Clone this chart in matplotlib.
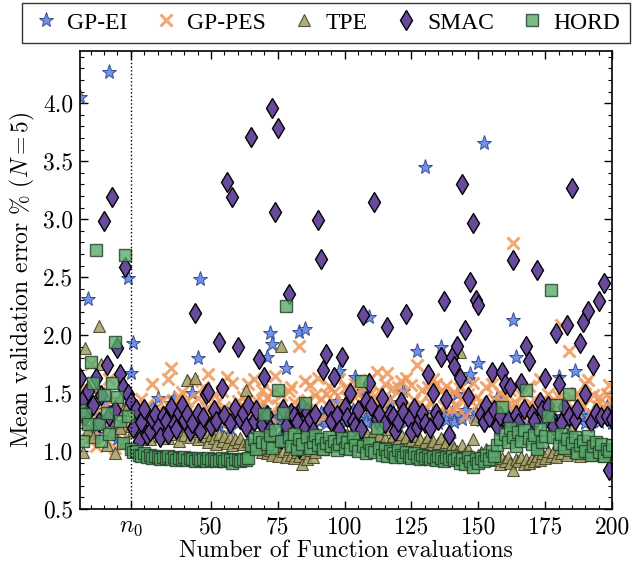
import numpy as np
import matplotlib
matplotlib.use("Agg")
import matplotlib.pyplot as plt
from matplotlib.ticker import MultipleLocator, FormatStrFormatter
from matplotlib.font_manager import FontProperties, findfont

plt.rcParams['font.family'] = 'serif'
plt.rcParams['font.serif'] = ['cmr10']
plt.rcParams['mathtext.fontset'] = 'cm'
plt.rcParams['axes.unicode_minus'] = False
plt.rcParams['axes.formatter.use_mathtext'] = True

n_evals = np.arange(1, 201)
n0 = 20

gp_ei = [4.05, 1.30, 1.45, 2.31, 1.20, 1.35, 1.15, 1.50, 1.25, 1.41,
         1.30, 4.27, 1.20, 1.38, 1.10, 1.45, 1.25, 1.35, 2.49, 1.67,
         1.93, 1.28, 1.22, 1.35, 1.18, 1.31, 1.25, 1.38, 1.20, 1.46,
         1.27, 1.33, 1.22, 1.36, 1.41, 1.46, 1.24, 1.30, 1.19, 1.35,
         1.28, 1.32, 1.50, 1.21, 1.80, 2.48, 1.26, 1.34, 1.23, 1.31,
         1.27, 1.36, 1.22, 1.30, 1.25, 1.33, 1.20, 1.28, 1.35, 1.24,
         1.31, 1.26, 1.34, 1.21, 1.29, 1.37, 1.23, 1.32, 1.27, 1.35,
         1.81, 2.02, 1.92, 1.28, 1.33, 1.25, 1.30, 1.72, 1.26, 1.34,
         1.29, 1.24, 2.03, 1.31, 2.05, 1.27, 1.35, 1.22, 1.30, 1.26,
         1.33, 1.28, 1.24, 1.36, 1.29, 1.25, 1.43, 1.69, 1.27, 1.32,
         1.26, 1.30, 1.35, 1.64, 1.28, 1.33, 1.52, 1.25, 2.16, 1.31,
         1.27, 1.34, 1.23, 1.29, 1.36, 1.26, 1.42, 1.30, 1.24, 1.33,
         1.28, 1.52, 1.25, 1.31, 1.27, 1.35, 1.86, 1.29, 1.23, 3.45,
         1.30, 1.26, 1.34, 1.28, 1.24, 1.90, 1.31, 1.27, 1.10, 1.33,
         1.25, 1.49, 1.30, 1.28, 1.35, 1.62, 1.66, 1.29, 1.33, 1.76,
         1.27, 3.66, 1.31, 1.25, 1.34, 1.29, 1.46, 1.26, 1.32, 1.28,
         1.24, 1.33, 2.13, 1.81, 1.27, 1.30, 1.25, 1.34, 1.22, 1.29,
         1.26, 1.03, 1.31, 1.28, 1.24, 1.33, 1.27, 1.30, 1.25, 1.64,
         1.29, 1.26, 1.34, 1.15, 1.28, 1.69, 1.35, 1.27, 1.31, 1.24,
         1.30, 1.26, 1.33, 1.28, 1.25, 1.32, 1.27, 1.38, 1.29, 1.24]

gp_pes = [1.25, 1.45, 1.56, 1.10, 1.75, 1.32, 1.04, 1.50, 1.20, 1.38,
          1.15, 1.62, 1.28, 1.03, 1.42, 1.18, 1.35, 1.08, 1.22, 1.30,
          1.22, 1.35, 1.28, 1.45, 1.26, 1.40, 1.31, 1.58, 1.33, 1.27,
          1.30, 1.44, 1.36, 1.62, 1.72, 1.41, 1.29, 1.47, 1.51, 1.34,
          1.43, 1.28, 1.60, 1.32, 1.46, 1.25, 1.55, 1.37, 1.66, 1.30,
          1.48, 1.41, 1.27, 1.52, 1.38, 1.64, 1.31, 1.59, 1.36, 1.43,
          1.29, 1.47, 1.42, 1.58, 1.34, 1.62, 1.44, 1.28, 1.53, 1.41,
          1.46, 1.30, 1.51, 1.65, 1.40, 1.48, 1.33, 1.36, 1.52, 1.55,
          1.42, 1.27, 1.91, 1.39, 1.60, 1.44, 1.57, 1.31, 1.48, 1.63,
          1.45, 1.29, 1.49, 1.56, 1.35, 1.51, 1.38, 1.62, 1.42, 1.54,
          1.47, 1.52, 1.33, 1.58, 1.49, 1.41, 1.55, 1.36, 1.61, 1.50,
          1.43, 1.68, 1.52, 1.37, 1.58, 1.67, 1.45, 1.54, 1.34, 1.55,
          1.60, 1.46, 1.63, 1.38, 1.57, 1.44, 1.74, 1.41, 1.53, 1.35,
          1.55, 1.42, 1.62, 1.58, 1.31, 1.52, 1.39, 1.56, 1.47, 1.36,
          1.51, 1.38, 1.54, 1.46, 1.30, 1.49, 1.44, 1.59, 1.46, 1.33,
          1.43, 1.36, 1.55, 1.40, 1.58, 1.45, 1.32, 1.50, 1.42, 1.47,
          1.39, 1.53, 2.79, 1.41, 1.35, 1.48, 1.29, 1.37, 1.56, 1.40,
          1.45, 1.33, 1.62, 1.42, 1.36, 1.49, 1.30, 1.44, 1.39, 1.47,
          2.09, 1.43, 1.33, 1.86, 1.46, 1.35, 1.50, 1.44, 1.39, 1.58,
          1.61, 1.32, 1.48, 1.40, 1.47, 1.36, 1.38, 1.49, 1.57, 1.43]

tpe = [1.30, 0.99, 1.89, 1.18, 1.43, 1.12, 1.25, 2.08, 1.75, 1.49,
       1.05, 1.30, 1.17, 0.98, 1.94, 1.20, 1.35, 1.08, 1.40, 1.22,
       1.18, 1.25, 1.12, 1.20, 1.15, 1.28, 1.10, 1.22, 1.16, 1.24,
       1.13, 1.19, 1.26, 1.11, 1.21, 1.15, 1.23, 1.09, 1.18, 1.14,
       1.61, 1.12, 1.17, 1.63, 1.10, 1.19, 1.13, 1.16, 1.08, 1.14,
       1.11, 1.06, 1.15, 1.09, 1.13, 1.07, 1.12, 1.05, 1.10, 1.08,
       1.11, 1.06, 1.53, 1.09, 1.04, 1.07, 1.02, 1.05, 0.99, 1.03,
       0.98, 1.01, 0.97, 1.04, 0.96, 1.91, 1.00, 0.95, 1.02, 0.97,
       0.94, 0.99, 0.96, 0.89, 0.98, 0.93, 1.01, 0.95, 0.99, 1.03,
       1.06, 1.02, 1.08, 1.04, 1.10, 1.05, 1.12, 1.07, 1.14, 1.09,
       1.15, 1.11, 1.18, 1.08, 1.13, 1.20, 1.10, 1.16, 1.07, 1.12,
       1.17, 1.09, 1.14, 1.06, 1.11, 1.19, 1.08, 1.13, 1.05, 1.10,
       1.15, 1.07, 1.12, 1.04, 1.09, 1.13, 1.06, 1.10, 1.03, 1.08,
       1.12, 1.05, 1.09, 1.02, 1.07, 1.11, 1.04, 1.08, 1.01, 1.06,
       1.03, 1.00, 1.85, 1.05, 0.98, 1.02, 0.96, 1.10, 1.28, 0.97,
       0.99, 0.95, 1.02, 0.93, 0.97, 0.92, 0.96, 0.89, 0.94, 0.91,
       0.95, 0.90, 0.84, 0.93, 0.91, 0.95, 0.89, 0.93, 0.90, 0.94,
       0.91, 0.96, 0.92, 0.98, 0.94, 1.00, 0.96, 0.99, 0.95, 1.02,
       0.98, 1.03, 0.97, 1.01, 1.20, 0.99, 1.04, 0.96, 1.02, 0.98,
       1.05, 1.00, 0.97, 1.03, 0.99, 1.01, 0.96, 1.02, 0.98, 1.00]

smac = [1.63, 1.45, 1.30, 1.52, 1.38, 1.40, 1.63, 1.25, 1.48, 2.98,
        1.74, 1.30, 3.19, 1.35, 1.89, 1.66, 1.55, 2.59, 1.49, 1.42,
        1.20, 1.36, 1.09, 1.25, 1.36, 1.14, 1.17, 1.28, 1.32, 1.21,
        1.12, 1.30, 1.26, 1.15, 1.38, 1.23, 1.19, 1.33, 1.40, 1.27,
        1.32, 1.17, 1.24, 2.19, 1.33, 1.17, 1.29, 1.49, 1.51, 1.22,
        1.35, 1.26, 1.94, 1.54, 1.31, 3.32, 1.24, 3.19, 1.37, 1.90,
        1.28, 1.33, 1.21, 1.40, 3.71, 1.26, 1.35, 1.79, 1.23, 1.64,
        1.31, 1.19, 3.96, 3.06, 3.79, 1.10, 1.36, 1.22, 2.35, 1.33,
        1.30, 1.25, 1.03, 1.38, 1.21, 1.34, 1.28, 1.17, 1.32, 2.99,
        2.66, 1.70, 1.84, 1.36, 1.26, 1.64, 1.31, 1.18, 1.81, 1.38,
        1.29, 1.50, 1.26, 1.22, 1.35, 1.19, 2.17, 1.43, 1.59, 1.39,
        3.15, 1.28, 1.32, 1.46, 1.24, 2.07, 1.32, 1.30, 1.17, 1.25,
        1.42, 1.34, 2.18, 1.28, 1.16, 1.37, 1.21, 1.28, 1.33, 1.24,
        1.66, 1.20, 1.50, 1.33, 1.27, 1.81, 2.29, 1.45, 1.14, 1.81,
        1.73, 1.91, 1.63, 3.30, 2.04, 1.47, 2.46, 2.97, 2.30, 2.26,
        1.32, 1.25, 1.40, 1.29, 1.68, 1.35, 1.22, 1.30, 1.68, 1.58,
        1.27, 1.55, 2.65, 1.31, 1.24, 1.59, 1.36, 1.91, 1.78, 1.32,
        1.26, 2.56, 1.42, 1.35, 1.63, 1.39, 1.29, 1.22, 2.02, 1.58,
        1.24, 1.38, 2.09, 1.30, 3.27, 1.27, 1.36, 1.93, 2.11, 1.49,
        2.21, 1.25, 1.74, 1.33, 2.29, 1.29, 2.45, 1.30, 0.84, 1.28]

hord = [1.35, 1.09, 1.32, 1.23, 1.77, 1.59, 2.73, 1.23, 1.09, 1.48,
        1.33, 1.15, 1.59, 1.94, 1.47, 1.26, 1.07, 2.69, 1.30, 1.02,
        0.99, 1.00, 0.97, 0.96, 0.98, 0.95, 0.97, 0.94, 0.96, 0.95,
        0.93, 0.95, 0.94, 0.96, 0.93, 0.95, 0.92, 0.94, 0.93, 0.95,
        0.92, 0.94, 0.93, 0.91, 0.94, 0.92, 0.93, 0.91, 0.94, 0.92,
        0.93, 0.91, 0.92, 0.94, 0.91, 0.93, 0.92, 0.90, 0.93, 0.92,
        0.91, 0.93, 0.92, 0.94, 1.05, 1.10, 1.02, 1.12, 1.08, 1.32,
        1.06, 1.14, 1.03, 1.18, 1.53, 1.09, 1.33, 2.25, 1.12, 1.04,
        1.15, 1.02, 1.10, 1.06, 1.41, 1.12, 1.03, 1.08, 1.14, 1.05,
        1.10, 1.02, 1.07, 1.12, 1.04, 1.09, 1.01, 1.06, 1.11, 1.03,
        1.08, 1.02, 1.12, 1.05, 1.00, 1.60, 1.04, 0.98, 1.07, 1.01,
        0.99, 1.20, 1.03, 0.97, 1.02, 0.96, 1.00, 0.98, 0.95, 1.01,
        0.97, 0.95, 0.99, 0.96, 0.94, 0.98, 0.95, 0.93, 0.97, 0.94,
        0.96, 0.93, 0.95, 0.92, 0.96, 0.94, 0.91, 0.95, 0.93, 0.96,
        0.92, 0.94, 0.90, 0.93, 0.89, 0.95, 0.91, 0.86, 0.93, 0.90,
        0.94, 0.91, 0.97, 0.93, 1.00, 0.96, 1.05, 1.10, 1.38, 1.15,
        1.08, 1.20, 1.12, 1.04, 1.16, 1.09, 1.18, 1.53, 1.11, 1.06,
        1.14, 1.02, 1.19, 1.08, 1.13, 1.30, 2.39, 1.12, 1.40, 1.06,
        1.15, 1.03, 1.10, 1.49, 1.07, 1.12, 0.98, 1.05, 1.09, 1.00,
        1.13, 0.97, 1.04, 1.08, 0.99, 1.06, 0.96, 1.02, 1.00, 1.05]

labels = ['GP-EI', 'GP-PES', 'TPE', 'SMAC', 'HORD']
xticks = [n0, 50, 75, 100, 125, 150, 175, 200]
xticklabels = ['$n_0$', '50', '75', '100', '125', '150', '175', '200']

# Times-like face for the legend, DejaVu Serif if it is missing
try:
    legend_path = findfont(FontProperties(family='Liberation Serif'),
                           fallback_to_default=False)
except ValueError:
    legend_path = findfont(FontProperties(family='DejaVu Serif'))

fig = plt.figure(figsize=(6.32, 5.65), dpi=100)
ax = fig.add_axes([80/632, 1 - 509/565, 532/632, 458/565])

ax.plot(n_evals, gp_ei, ls='none', marker='*', ms=11, mfc='#6e90ee',
        mec='#3a4f8a', mew=0.7, label=labels[0])
ax.plot(n_evals, gp_pes, ls='none', marker='x', ms=8, mew=2.2,
        color='#ee995c', alpha=0.85, label=labels[1])
ax.plot(n_evals, tpe, ls='none', marker='^', ms=9, mfc='#a39f66',
        mec='#3f3d22', mew=0.8, alpha=0.85, label=labels[2])
ax.plot(n_evals, smac, ls='none', marker='d', ms=10, mfc='#6a4a9c',
        mec='black', mew=1.0, label=labels[3])
ax.plot(n_evals, hord, ls='none', marker='s', ms=8.5, mfc='#5aaa6c',
        mec='#1f3d25', mew=1.0, alpha=0.8, label=labels[4])

ax.axvline(n0, color='black', ls=':', lw=1)

ax.set_xlim(1, 200)
ax.set_ylim(0.5, 4.45)
ax.set_xticks(xticks)
ax.set_xticklabels(xticklabels)
ax.xaxis.set_minor_locator(MultipleLocator(5))
ax.yaxis.set_major_locator(MultipleLocator(0.5))
ax.yaxis.set_minor_locator(MultipleLocator(0.1))
ax.yaxis.set_major_formatter(FormatStrFormatter('%.1f'))
ax.tick_params(which='both', direction='in', top=True, right=True,
               labelsize=17, pad=5)
ax.tick_params(which='major', length=6, width=1)
ax.tick_params(which='minor', length=3, width=0.8)
for s in ax.spines.values():
    s.set_linewidth(1.2)

ax.set_xlabel('Number of Function evaluations', fontsize=17, labelpad=1)
ax.set_ylabel(r'Mean validation error % ($N=5$)', fontsize=17, labelpad=4)

leg = fig.legend(loc='lower left', bbox_to_anchor=(22/632, 1 - 43/565, 608/632, 40/565),
                 mode='expand', ncol=5, borderaxespad=0, frameon=True,
                 fancybox=False, handletextpad=0.3, columnspacing=0.6,
                 handlelength=1.2, fontsize=17)
for t in leg.get_texts():
    t.set_fontproperties(FontProperties(fname=legend_path, size=17))
leg.get_frame().set_edgecolor('black')
leg.get_frame().set_linewidth(1.0)

fig.savefig('out.png', dpi=100)
